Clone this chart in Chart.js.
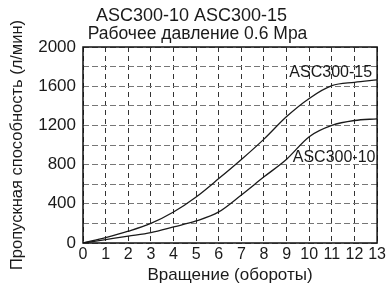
<!DOCTYPE html>
<html><head><meta charset="utf-8">
<script src="https://cdn.jsdelivr.net/npm/chart.js@4/dist/chart.umd.min.js"></script>
<style>html,body{margin:0;padding:0;background:#fff}#wrap{width:388px;height:289px}</style>
</head><body><div id="wrap"><canvas id="c" width="388" height="289"></canvas></div>
<script>
const turns = [0,1,2,3,4,5,6,7,8,9,10,11,12,13];
const asc300_15 = [0,55,120,200,316,470,657,852,1060,1290,1475,1605,1640,1665];
const asc300_10 = [0,35,70,106,164,225,317,490,675,855,1085,1200,1250,1267];
const seriesNames = ['ASC300-15','ASC300-10'];
const titleLines = ['ASC300-10 ASC300-15','Рабочее давление 0.6 Mpa'];
const xTitle = 'Вращение (обороты)';
const yTitle = 'Пропускная способность (л/мин)';
const FONT = "'Liberation Sans', Arial, sans-serif";
const TXT = '#1a1a1a';

const decorPlugin = {
  id:'decor',
  afterDraw(chart){
    const {ctx, chartArea:a, scales:{x,y}} = chart;
    ctx.save();
    ctx.strokeStyle='#111'; ctx.lineWidth=1.5; ctx.setLineDash([]);
    ctx.strokeRect(a.left, a.top, a.right-a.left, a.bottom-a.top);
    ctx.fillStyle=TXT; ctx.font='16px '+FONT; ctx.textAlign='center'; ctx.textBaseline='middle';
    ctx.fillText(seriesNames[0], x.getPixelForValue(10.95), y.getPixelForValue(1735));
    ctx.fillText(seriesNames[1], x.getPixelForValue(11.1), y.getPixelForValue(867));
    ctx.textBaseline='alphabetic';
    const lines = [[191.5,21,18],[197.5,39,17.5]];
    titleLines.forEach((t,i)=>{
      ctx.font=lines[i][2]+'px '+FONT;
      ctx.fillText(t, lines[i][0], lines[i][1]);
    });
    ctx.restore();
  }
};

new Chart(document.getElementById('c'), {
  type:'line',
  data:{ datasets:[
    {label:seriesNames[0], data:turns.map((t,i)=>({x:t,y:asc300_15[i]})), borderColor:'#1a1a1a', borderWidth:1.3, pointRadius:0, cubicInterpolationMode:'monotone', fill:false},
    {label:seriesNames[1], data:turns.map((t,i)=>({x:t,y:asc300_10[i]})), borderColor:'#1a1a1a', borderWidth:1.3, pointRadius:0, cubicInterpolationMode:'monotone', fill:false}
  ]},
  options:{
    responsive:false, animation:false, devicePixelRatio:1,
    layout:{padding:{left:0,right:7,top:47,bottom:0}},
    plugins:{ legend:{display:false}, tooltip:{enabled:false}, title:{display:false} },
    scales:{
      x:{type:'linear', min:0, max:13,
        afterFit:s=>{s.height=46;},
        ticks:{stepSize:1, color:TXT, font:{family:FONT,size:16}, padding:2, maxRotation:0, autoSkip:false},
        grid:{color:'#333', lineWidth:1, drawTicks:false},
        border:{display:false, dash:[5,4]},
        title:{display:true, text:xTitle, color:TXT, font:{family:FONT,size:17}, padding:{top:0,bottom:3}}
      },
      y:{min:0, max:2000,
        afterFit:s=>{s.width=83;},
        ticks:{stepSize:200, color:TXT, font:{family:FONT,size:17}, padding:7, autoSkip:false,
          callback:v=> v%400===0 ? String(v) : ''},
        grid:{color:'#777', lineWidth:1, drawTicks:false},
        border:{display:false, dash:[6,3]},
        title:{display:true, text:yTitle, color:TXT, font:{family:FONT,size:16.5}, padding:{top:8,bottom:0}}
      }
    }
  },
  plugins:[decorPlugin]
});
</script></body></html>
